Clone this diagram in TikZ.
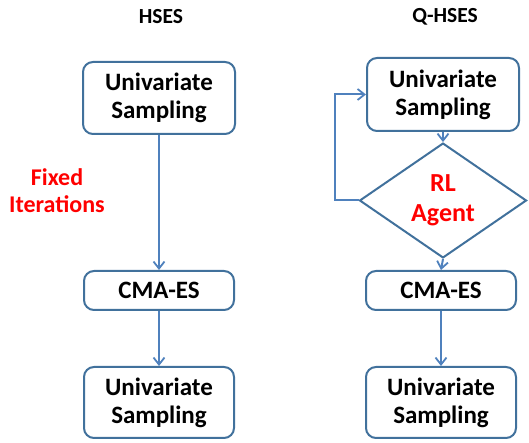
\documentclass[tikz,border=0pt]{standalone}
\usepackage{fontspec}
\setmainfont{Carlito}
\usetikzlibrary{arrows.meta,shapes.geometric}
\definecolor{boxblue}{HTML}{41719C}
\definecolor{arrowblue}{HTML}{4F81BD}
\definecolor{agentred}{HTML}{FF0000}

\begin{document}
\begin{tikzpicture}[x=1pt,y=1pt,
        stage/.style={draw=boxblue, line width=2pt, rounded corners=10pt, fill=white,
            align=center, font=\fontsize{25}{28}\selectfont\bfseries, inner sep=0pt},
        decision/.style={diamond, draw=boxblue, line width=2pt, fill=white, inner sep=0pt,
            minimum width=167pt, minimum height=85pt, align=center,
            font=\fontsize{26}{30}\selectfont\bfseries, text=agentred},
        flow/.style={draw=arrowblue, line width=2pt, -{Straight Barb[length=7pt,width=11pt,line width=1.8pt]}},
        heading/.style={font=\fontsize{21.5}{24}\selectfont\bfseries}]
        \useasboundingbox (0,0) rectangle (529,443);

        \node[heading] (hses) at (161,426) {HSES};
        \node[heading] (qhses) at (445,426) {Q-HSES};

        \node[stage, minimum width=152pt, minimum height=72pt] (l1) at (159,345) {Univariate\\Sampling};
        \node[stage, minimum width=150pt, minimum height=39pt] (lcma) at (159,152.5) {CMA-ES};
        \node[stage, minimum width=150pt, minimum height=71pt] (l2) at (159,40.5) {Univariate\\Sampling};
        \node[align=center, font=\fontsize{24}{27}\selectfont\bfseries, text=agentred] (fixed) at (57,252) {Fixed\\Iterations};

        \node[stage, minimum width=152pt, minimum height=73pt] (r1) at (443,348.5) {Univariate\\Sampling};
        \node[decision] (agent) at (443,242.5) {RL\\Agent};
        \node[stage, minimum width=150pt, minimum height=39pt] (rcma) at (441,152.5) {CMA-ES};
        \node[stage, minimum width=150pt, minimum height=71pt] (r2) at (441,40.5) {Univariate\\Sampling};

        \draw[flow] (l1) -- (lcma);
        \draw[flow] (lcma) -- (l2);

        \draw[flow] (r1) -- (agent);
        \draw[flow] (agent.south) -- (rcma.north);
        \draw[flow] (rcma) -- (r2);
        \draw[flow] (agent.west) -- ++(-24,0) |- (r1.west);
\end{tikzpicture}
\end{document}
